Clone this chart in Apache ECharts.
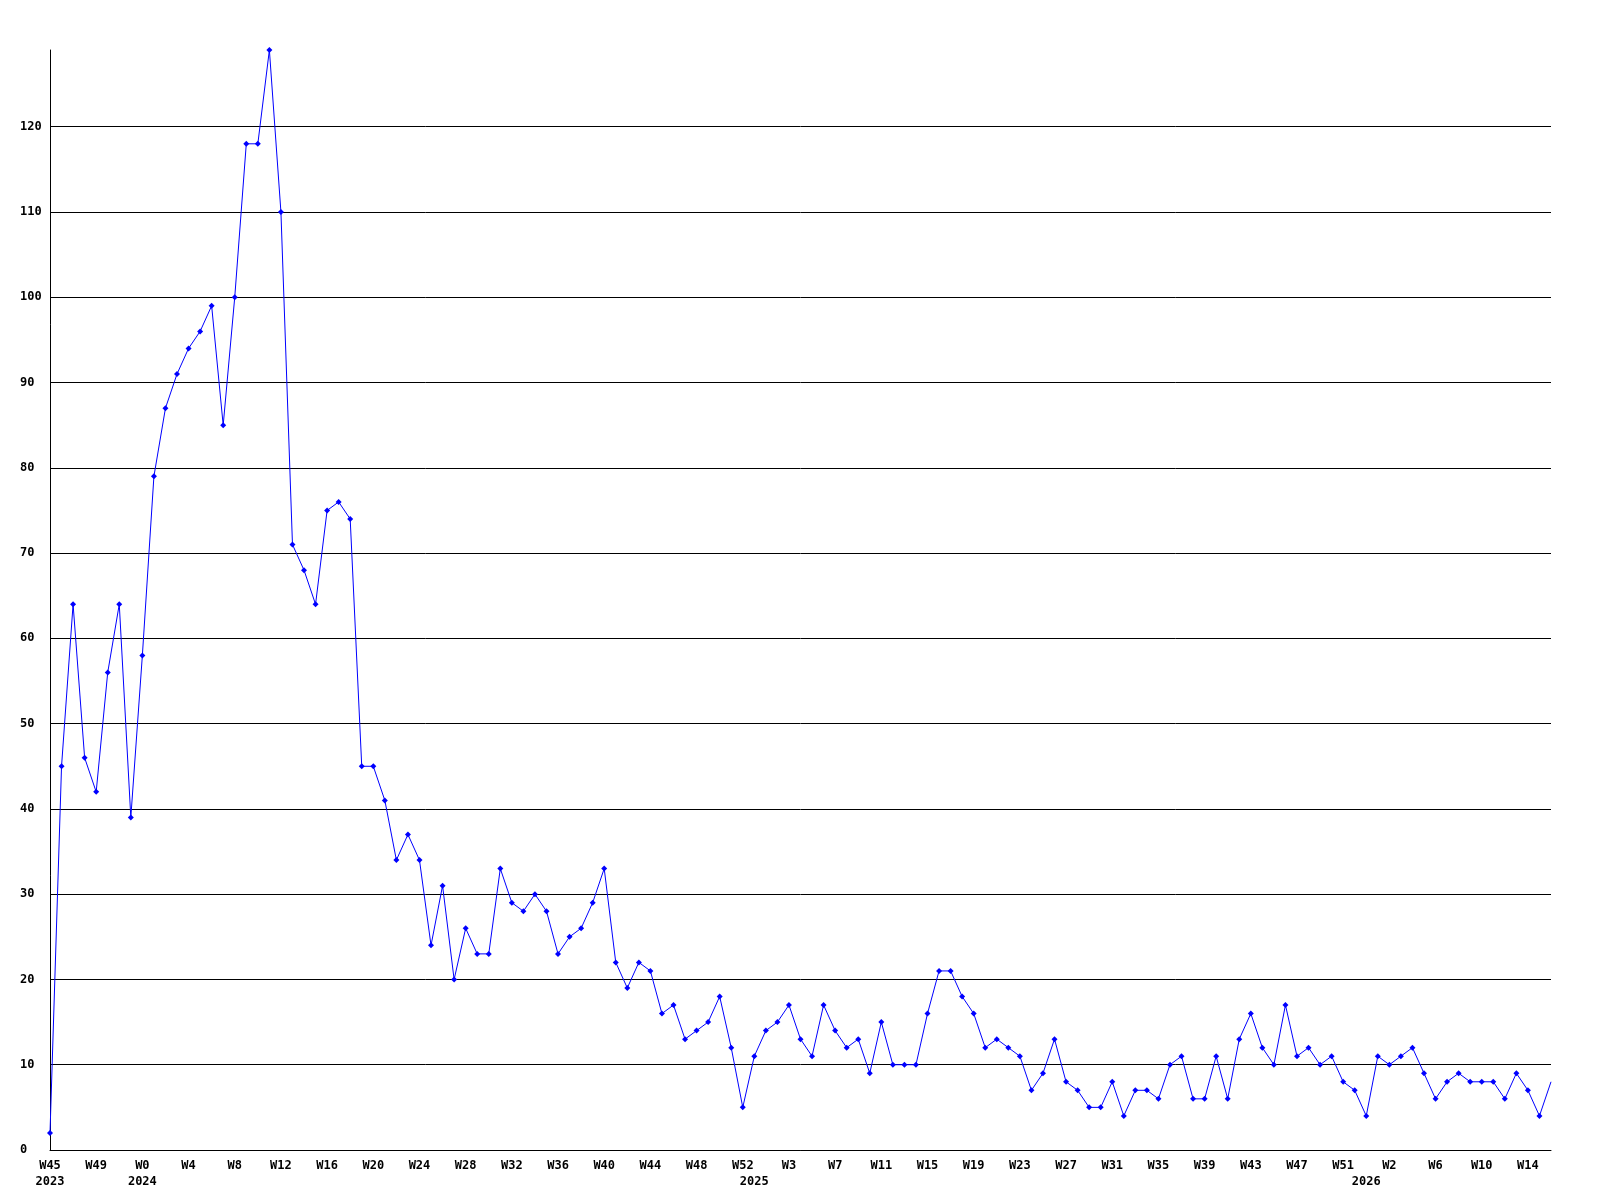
<!DOCTYPE html>
<html><head><meta charset="utf-8">
<script src="https://cdn.jsdelivr.net/npm/echarts@6/dist/echarts.min.js"></script>
<style>html,body{margin:0;padding:0;background:#fff}#c{width:1600px;height:1200px}</style>
</head><body><div id="c"></div>
<script>
const categories = [
'2023-W45','2023-W46','2023-W47','2023-W48','2023-W49','2023-W50','2023-W51','2023-W52',
'2024-W0','2024-W1','2024-W2','2024-W3','2024-W4','2024-W5','2024-W6','2024-W7','2024-W8','2024-W9',
'2024-W10','2024-W11','2024-W12','2024-W13','2024-W14','2024-W15','2024-W16','2024-W17','2024-W18','2024-W19',
'2024-W20','2024-W21','2024-W22','2024-W23','2024-W24','2024-W25','2024-W26','2024-W27','2024-W28','2024-W29',
'2024-W30','2024-W31','2024-W32','2024-W33','2024-W34','2024-W35','2024-W36','2024-W37','2024-W38','2024-W39',
'2024-W40','2024-W41','2024-W42','2024-W43','2024-W44','2024-W45','2024-W46','2024-W47','2024-W48','2024-W49',
'2024-W50','2024-W51','2024-W52',
'2025-W0','2025-W1','2025-W2','2025-W3','2025-W4','2025-W5','2025-W6','2025-W7','2025-W8','2025-W9',
'2025-W10','2025-W11','2025-W12','2025-W13','2025-W14','2025-W15','2025-W16','2025-W17','2025-W18','2025-W19',
'2025-W20','2025-W21','2025-W22','2025-W23','2025-W24','2025-W25','2025-W26','2025-W27','2025-W28','2025-W29',
'2025-W30','2025-W31','2025-W32','2025-W33','2025-W34','2025-W35','2025-W36','2025-W37','2025-W38','2025-W39',
'2025-W40','2025-W41','2025-W42','2025-W43','2025-W44','2025-W45','2025-W46','2025-W47','2025-W48','2025-W49',
'2025-W50','2025-W51','2025-W52',
'2026-W0','2026-W1','2026-W2','2026-W3','2026-W4','2026-W5','2026-W6','2026-W7','2026-W8','2026-W9',
'2026-W10','2026-W11','2026-W12','2026-W13','2026-W14','2026-W15','2026-W16'
];

const values = [
2,45,64,46,42,56,64,39,
58,79,87,91,94,96,99,85,100,118,
118,129,110,71,68,64,75,76,74,45,
45,41,34,37,34,24,31,20,26,23,
23,33,29,28,30,28,23,25,26,29,
33,22,19,22,21,16,17,13,14,15,
18,12,5,
11,14,15,17,13,11,17,14,12,13,
9,15,10,10,10,16,21,21,18,16,
12,13,12,11,7,9,13,8,7,5,
5,8,4,7,7,6,10,11,6,6,
11,6,13,16,12,10,17,11,12,10,
11,8,7,
4,11,10,11,12,9,6,8,9,8,
8,8,6,9,7,4,8
];

const weekLabelStep = 4;
const yTickStep = 10;

const chart = echarts.init(document.getElementById('c'), null, {renderer: 'canvas'});
const font = {fontFamily: 'DejaVu Sans Mono', fontWeight: 'bold', fontSize: 12, color: '#000'};
const lastIndex = values.length - 1;

chart.setOption({
  backgroundColor: '#ffffff',
  animation: false,
  grid: {left: 50, right: 49, top: 50, bottom: 50, containLabel: false},
  xAxis: {
    type: 'category',
    data: categories,
    boundaryGap: false,
    axisLine: {show: true, lineStyle: {color: '#000', width: 1}},
    axisTick: {show: false},
    splitLine: {show: false},
    axisLabel: Object.assign({}, font, {
      interval: 0,
      margin: 8,
      lineHeight: 16,
      hideOverlap: false,
      formatter: function (value, index) {
        const parts = value.split('-');
        const yr = parts[0], wk = parts[1];
        const top = (index % weekLabelStep === 0) ? wk : '';
        const year = (index === 0 || wk === 'W0') ? yr : '';
        if (!top && !year) return '';
        return year ? top + '\n' + year : top;
      }
    })
  },
  yAxis: {
    type: 'value',
    min: 0,
    max: 'dataMax',
    interval: yTickStep,
    axisLine: {show: true, lineStyle: {color: '#000', width: 1}},
    axisTick: {show: false},
    splitLine: {show: true, showMaxLine: false, lineStyle: {color: '#000', width: 1}},
    axisLabel: Object.assign({}, font, {
      margin: 30,
      align: 'left',
      showMaxLabel: false
    })
  },
  series: [{
    type: 'line',
    data: values,
    color: '#0000ff',
    lineStyle: {color: '#0000ff', width: 1},
    itemStyle: {color: '#0000ff'},
    symbol: function (v, params) { return params.dataIndex === lastIndex ? 'none' : 'diamond'; },
    symbolSize: 6,
    showAllSymbol: true,
    clip: false
  }]
});
</script>
</body></html>
